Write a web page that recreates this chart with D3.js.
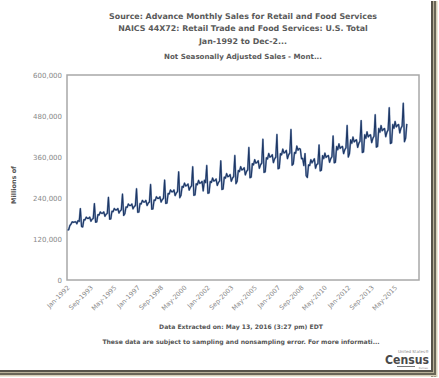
<!DOCTYPE html>
<html>
<head>
<meta charset="utf-8">
<script src="https://cdn.jsdelivr.net/npm/d3@7"></script>
<style>
  body { margin: 0; background: #fff; }
  text { font-family: Verdana, "DejaVu Sans", sans-serif; }
</style>
</head>
<body>
<div id="chart"></div>
<script>
//// data: retail trade and food services, not seasonally adjusted, millions of dollars
var startYear = 1992;
var monthNames = ["Jan","Feb","Mar","Apr","May","Jun","Jul","Aug","Sep","Oct","Nov","Dec"];

var sales = [
  146400,147100,159300,163700,170100,168700,169900,170400,164600,173700,171500,208800, // 1992
  156600,155400,176800,175900,183900,180300,180300,184000,172200,177600,180300,223400, // 1993
  169300,170100,191300,190300,199100,195200,195200,199100,186400,192300,195200,241800, // 1994
  178100,178900,201100,200100,209300,205200,205200,209300,196000,202200,205200,251200, // 1995
  189200,194000,213700,212700,222400,218100,218100,222400,208300,214800,218100,267000, // 1996
  198100,199000,223800,222700,232900,228300,228300,232900,218100,224900,228300,279500, // 1997
  207300,208200,234100,232900,243600,238900,238900,243600,228200,235300,238900,292400, // 1998
  224300,225300,253300,252100,263600,258500,258500,263600,246900,254600,258500,316400, // 1999
  241100,248000,274000,271300,283600,275400,276700,280900,263000,271300,275400,331500, // 2000
  247800,249200,281600,278800,291500,283000,284400,288600,261000,292000,285000,335000, // 2001
  253700,255100,288300,285400,298400,289700,291200,295500,276800,285400,289700,348800, // 2002
  264900,266400,301000,298000,311500,302500,304000,308500,289000,298000,302500,364200, // 2003
  282100,289000,320600,317400,331800,322200,323800,328600,307800,317400,322200,387900, // 2004
  299600,301300,340500,337100,352400,342200,343900,349000,326900,337100,342200,412000, // 2005
  315000,316700,357900,354300,370400,359700,361500,366800,343600,354300,359700,425900, // 2006
  325600,327500,370000,366300,383000,371900,373700,379300,355200,366300,371900,440300, // 2007
  336000,340000,373000,371000,392000,380000,385000,383000,355000,356000,335000,370000, // 2008
  305000,300000,337000,335000,352000,343000,349000,355000,327000,338000,340000,395000, // 2009
  319500,321300,364100,355200,371300,358800,362400,364100,344500,355200,360600,421300, // 2010
  343000,344900,390900,381300,398500,385100,388900,390900,369800,381300,387000,452200, // 2011
  360000,370000,410200,400200,418300,404200,408200,410200,388100,400200,406200,466600, // 2012
  373000,375100,425100,414700,433500,418900,423100,425100,402200,414700,421000,483500, // 2013
  389000,391100,443300,432400,452000,436800,441100,443300,419400,432400,439000,504100, // 2014
  399300,401500,455000,443900,464000,448300,452800,455000,430500,443900,450600,517500, // 2015
  405000,415000,457000                                                                  // 2016
];

var yTicks = [0, 120000, 240000, 360000, 480000, 600000];
var xTickLabels = ["Jan-1992","Sep-1993","May-1995","Jan-1997","Sep-1998","May-2000","Jan-2002",
  "Sep-2003","May-2005","Jan-2007","Sep-2008","May-2010","Jan-2012","Sep-2013","May-2015"];

var titleLines = [
  "Source: Advance Monthly Sales for Retail and Food Services",
  "NAICS 44X72: Retail Trade and Food Services: U.S. Total",
  "Jan-1992 to Dec-2..."
];
var subTitle = "Not Seasonally Adjusted Sales - Mont...";
var yTitle = "Millions of";
var footNotes = [
  "Data Extracted on: May 13, 2016 (3:27 pm) EDT",
  "These data are subject to sampling and nonsampling error. For more informati..."
];

// month labels for each point
var months = sales.map(function(d, i) {
  return monthNames[i % 12] + "-" + (startYear + Math.floor(i / 12));
});

//// chart
var W = 439, H = 378;
var plot = {left: 67, right: 419, top: 75, bottom: 280};

var svg = d3.select("#chart").append("svg")
  .attr("width", W)
  .attr("height", H);

svg.append("rect").attr("width", W).attr("height", H).attr("fill", "#fff");

var xScale = d3.scaleLinear()
  .domain([0, 300])
  .range([plot.left + 0.5, plot.right - 0.5]);

var yScale = d3.scaleLinear()
  .domain([0, 600000])
  .range([plot.bottom, plot.top]);

//// titles
var cx = (plot.left + plot.right) / 2;
svg.selectAll(".title")
  .data(titleLines)
  .enter().append("text")
  .attr("class", "title")
  .attr("x", cx)
  .attr("y", function(d, i) { return 19 + i * 12.3; })
  .attr("text-anchor", "middle")
  .attr("font-size", 7.9)
  .attr("font-weight", "bold")
  .attr("fill", "#5a5a5a")
  .text(function(d) { return d; });

svg.append("text")
  .attr("x", cx).attr("y", 58.5)
  .attr("text-anchor", "middle")
  .attr("font-size", 7.1)
  .attr("font-weight", "bold")
  .attr("fill", "#5a5a5a")
  .text(subTitle);

//// y axis
var yAxis = svg.append("g")
  .attr("transform", "translate(" + (plot.left - 2) + ",0)")
  .call(d3.axisLeft(yScale).tickValues(yTicks).tickSize(0).tickFormat(d3.format(",")));
yAxis.select(".domain").remove();
yAxis.selectAll("text")
  .attr("font-size", 7)
  .attr("font-family", "Verdana, 'DejaVu Sans', sans-serif")
  .attr("fill", "#888");

svg.append("text")
  .attr("transform", "translate(16," + 185 + ") rotate(-90)")
  .attr("text-anchor", "middle")
  .attr("font-size", 6.5)
  .attr("font-weight", "bold")
  .attr("fill", "#555")
  .text(yTitle);

//// x axis
var xTickIdx = xTickLabels.map(function(l) { return months.indexOf(l); });
var xAxis = svg.append("g")
  .attr("transform", "translate(0," + plot.bottom + ")")
  .call(d3.axisBottom(xScale).tickValues(xTickIdx).tickSize(0)
    .tickFormat(function(d) { return months[d]; }));
xAxis.select(".domain").remove();
xAxis.selectAll("text")
  .attr("font-size", 6.5)
  .attr("font-family", "Verdana, 'DejaVu Sans', sans-serif")
  .attr("fill", "#888")
  .attr("text-anchor", "end")
  .attr("dx", 0).attr("dy", 0)
  .attr("transform", "translate(0,6) rotate(-45)");

//// plot frame
svg.append("rect")
  .attr("x", plot.left).attr("y", plot.top)
  .attr("width", plot.right - plot.left).attr("height", plot.bottom - plot.top)
  .attr("fill", "none")
  .attr("stroke", "#a8a8a8")
  .attr("stroke-width", 1.5);

//// line
var line = d3.line()
  .x(function(d, i) { return xScale(i); })
  .y(function(d) { return yScale(d); });

svg.append("path")
  .datum(sales)
  .attr("d", line)
  .attr("fill", "none")
  .attr("stroke", "#8da0c0")
  .attr("stroke-width", 1.9)
  .attr("stroke-linejoin", "round");

svg.append("path")
  .datum(sales)
  .attr("d", line)
  .attr("fill", "none")
  .attr("stroke", "#1d3765")
  .attr("stroke-width", 1.1)
  .attr("stroke-linejoin", "round");

//// footnotes
svg.selectAll(".foot")
  .data(footNotes)
  .enter().append("text")
  .attr("class", "foot")
  .attr("x", 241)
  .attr("y", function(d, i) { return 329 + i * 15; })
  .attr("text-anchor", "middle")
  .attr("font-size", 6.1)
  .attr("font-weight", "bold")
  .attr("fill", "#555")
  .text(function(d) { return d; });

//// census logo
var logo = svg.append("g").attr("fill", "#4a4a4a");
logo.append("text").attr("x", 429).attr("y", 352.5)
  .attr("text-anchor", "end").attr("font-size", 4).attr("fill", "#888")
  .text("United States\u00ae");
logo.append("text").attr("x", 429).attr("y", 364)
  .attr("text-anchor", "end").attr("font-size", 12.5).attr("font-weight", "bold")
  .attr("font-family", "'Liberation Sans Narrow', 'DejaVu Sans Condensed', sans-serif")
  .attr("textLength", 44).attr("lengthAdjust", "spacingAndGlyphs")
  .text("Census");
logo.append("rect").attr("x", 397).attr("y", 366).attr("width", 18).attr("height", 0.8).attr("fill", "#555");
logo.append("text").attr("x", 428).attr("y", 368.5)
  .attr("text-anchor", "end").attr("font-size", 2.6).attr("fill", "#888")
  .text("Bureau");

//// picture frame shadow (right and bottom)
var frame = svg.append("g");
frame.append("rect").attr("x", 431).attr("y", 1).attr("width", 2).attr("height", 376).attr("fill", "#57534a");
frame.append("rect").attr("x", 433).attr("y", 1).attr("width", 1).attr("height", 376).attr("fill", "#b9b199");
frame.append("rect").attr("x", 434).attr("y", 1).attr("width", 2).attr("height", 376).attr("fill", "#6a6658");
frame.append("rect").attr("x", 436).attr("y", 1).attr("width", 1.5).attr("height", 376).attr("fill", "#d6cfb8");
frame.append("rect").attr("x", 0).attr("y", 370).attr("width", 433).attr("height", 2).attr("fill", "#57534a");
frame.append("rect").attr("x", 0).attr("y", 372).attr("width", 434).attr("height", 1).attr("fill", "#b9b199");
frame.append("rect").attr("x", 0).attr("y", 373).attr("width", 436).attr("height", 2).attr("fill", "#6a6658");
frame.append("rect").attr("x", 0).attr("y", 375).attr("width", 437).attr("height", 1.5).attr("fill", "#d6cfb8");
</script>
</body>
</html>
